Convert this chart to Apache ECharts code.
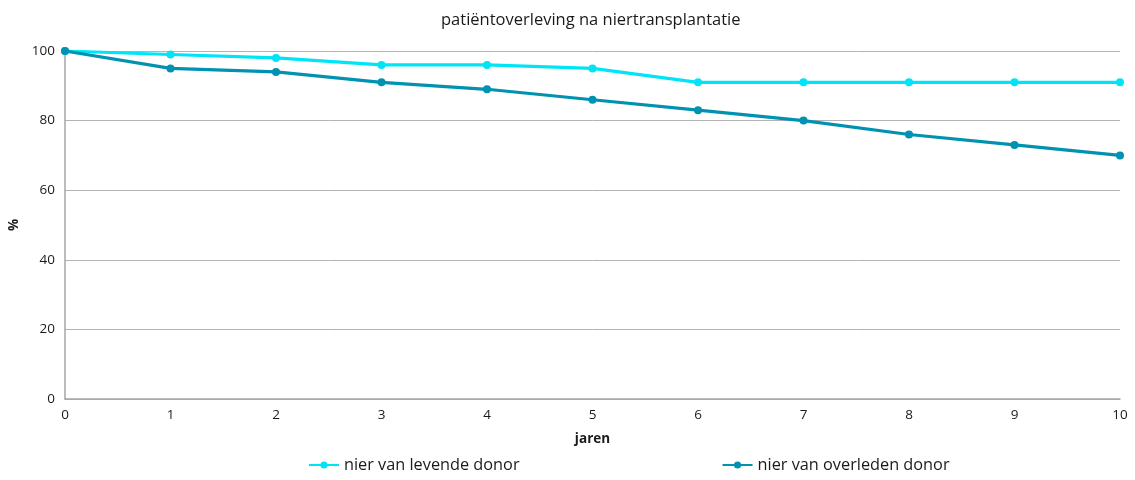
<!DOCTYPE html>
<html>
<head>
<meta charset="utf-8">
<script src="https://cdn.jsdelivr.net/npm/echarts@6/dist/echarts.min.js"></script>
<style>
  html, body { margin: 0; padding: 0; background: #fff; }
  #chart { width: 1135px; height: 480px; }
</style>
</head>
<body>
<div id="chart"></div>
<script>
// Jaren na transplantatie
const years = ['0', '1', '2', '3', '4', '5', '6', '7', '8', '9', '10'];
// Patiëntoverleving (%)
const levendeDonor = [100, 99, 98, 96, 96, 95, 91, 91, 91, 91, 91];
const overledenDonor = [100, 95, 94, 91, 89, 86, 83, 80, 76, 73, 70];

const font = '"Open Sans", "Noto Sans", sans-serif';
const chart = echarts.init(document.getElementById('chart'));

chart.setOption({
  backgroundColor: '#ffffff',
  animation: false,
  title: {
    text: 'patiëntoverleving na niertransplantatie',
    left: 436,
    top: 7,
    textStyle: { fontFamily: font, fontSize: 16.5, fontWeight: 'normal', color: '#1a1a1a' }
  },
  legend: {
    bottom: 2,
    left: 303,
    itemGap: 202,
    itemWidth: 30,
    itemHeight: 9,
    textStyle: { fontFamily: font, fontSize: 16.3, color: '#1a1a1a' },
    data: ['nier van levende donor', 'nier van overleden donor']
  },
  grid: { left: 65, right: 15, top: 51, bottom: 81, outerBoundsMode: 'none', containLabel: false },
  xAxis: {
    type: 'category',
    data: years,
    boundaryGap: false,
    name: 'jaren',
    nameLocation: 'middle',
    nameGap: 33,
    nameTextStyle: { fontFamily: font, fontSize: 13.5, fontWeight: 'bold', color: '#1a1a1a' },
    axisLine: { lineStyle: { color: '#a6a6a6', width: 1.5 } },
    axisTick: { show: false },
    axisLabel: { fontFamily: font, fontSize: 13.5, color: '#1a1a1a', margin: 9 },
    splitLine: { show: false }
  },
  yAxis: {
    type: 'value',
    min: 0,
    max: 100,
    interval: 20,
    name: '%',
    nameLocation: 'middle',
    nameGap: 43,
    nameRotate: 90,
    nameTextStyle: { fontFamily: font, fontSize: 13.5, fontWeight: 'bold', color: '#1a1a1a' },
    axisLine: { show: true, lineStyle: { color: '#a6a6a6', width: 1.5 } },
    axisTick: { show: false },
    axisLabel: { fontFamily: font, fontSize: 13.5, color: '#1a1a1a', margin: 10 },
    splitLine: { lineStyle: { color: '#b3b3b3', width: 1 } }
  },
  series: [
    {
      name: 'nier van levende donor',
      type: 'line',
      data: levendeDonor,
      symbol: 'circle',
      symbolSize: 8,
      color: '#00e4f8',
      lineStyle: { width: 3.2, color: '#00e4f8' },
      itemStyle: { color: '#00e4f8' }
    },
    {
      name: 'nier van overleden donor',
      type: 'line',
      data: overledenDonor,
      symbol: 'circle',
      symbolSize: 8,
      color: '#0092b0',
      lineStyle: { width: 3.2, color: '#0092b0' },
      itemStyle: { color: '#0092b0' }
    }
  ]
});
</script>
</body>
</html>
